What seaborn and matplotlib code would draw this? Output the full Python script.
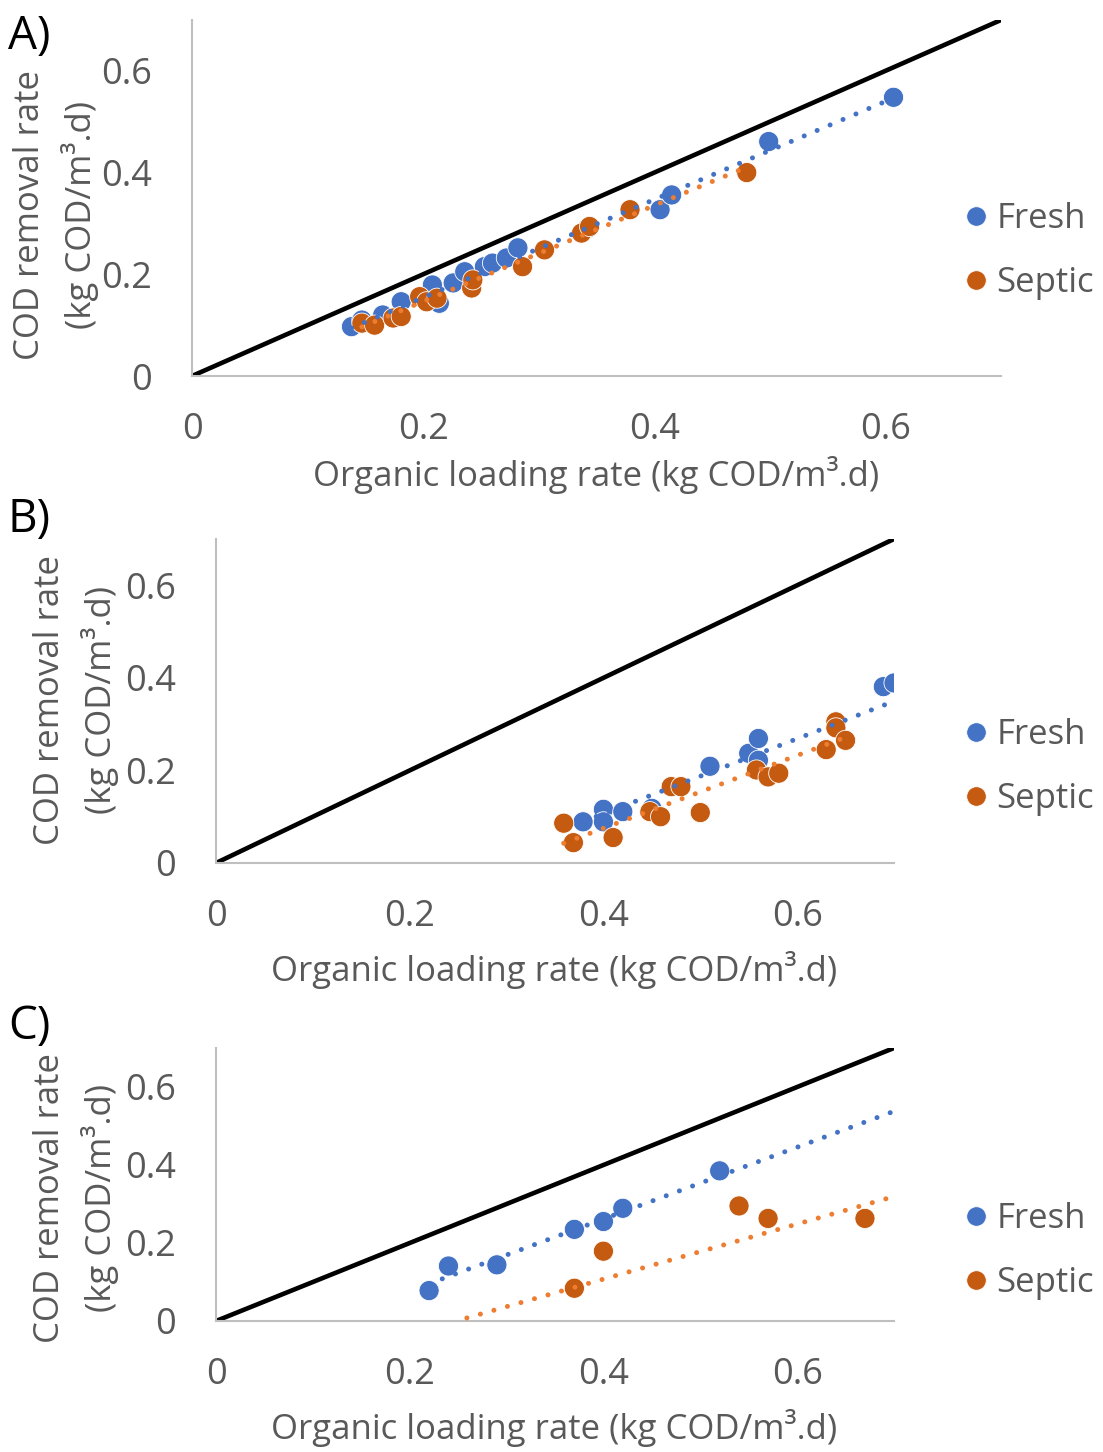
import numpy as np
import pandas as pd
import matplotlib
matplotlib.use("Agg")
import matplotlib.pyplot as plt
from matplotlib.lines import Line2D
import seaborn as sns

# ---- data: organic loading rate (x) vs COD removal rate (y) ----
A_fresh_x = [0.138, 0.147, 0.165, 0.181, 0.214, 0.208, 0.226, 0.236, 0.253, 0.260, 0.272, 0.282, 0.342, 0.405, 0.415, 0.499, 0.607]
A_fresh_y = [0.097, 0.110, 0.120, 0.146, 0.143, 0.179, 0.183, 0.205, 0.215, 0.222, 0.232, 0.252, 0.290, 0.327, 0.356, 0.461, 0.548]
A_septic_x = [0.147, 0.158, 0.174, 0.181, 0.197, 0.203, 0.212, 0.242, 0.243, 0.286, 0.305, 0.337, 0.344, 0.379, 0.480]
A_septic_y = [0.104, 0.100, 0.114, 0.117, 0.156, 0.146, 0.153, 0.173, 0.189, 0.215, 0.248, 0.281, 0.294, 0.327, 0.400]

B_fresh_x = [0.379, 0.400, 0.400, 0.420, 0.450, 0.510, 0.550, 0.560, 0.560, 0.689, 0.700]
B_fresh_y = [0.089, 0.116, 0.089, 0.111, 0.118, 0.209, 0.237, 0.269, 0.222, 0.381, 0.389]
B_septic_x = [0.359, 0.369, 0.410, 0.448, 0.459, 0.470, 0.480, 0.500, 0.558, 0.570, 0.581, 0.630, 0.640, 0.640, 0.650]
B_septic_y = [0.086, 0.044, 0.055, 0.111, 0.100, 0.165, 0.165, 0.109, 0.201, 0.186, 0.194, 0.245, 0.305, 0.292, 0.265]

C_fresh_x = [0.220, 0.240, 0.290, 0.370, 0.400, 0.420, 0.520]
C_fresh_y = [0.078, 0.141, 0.144, 0.235, 0.255, 0.289, 0.385]
C_septic_x = [0.370, 0.400, 0.540, 0.570, 0.670]
C_septic_y = [0.084, 0.179, 0.295, 0.263, 0.263]

# linear trendlines: slope, intercept, x start, x end
A_fresh_trend = [0.964, -0.0386, 0.138, 0.607]
A_septic_trend = [0.943, -0.042, 0.147, 0.480]
B_fresh_trend = [0.810, -0.2175, 0.379, 0.700]
B_septic_trend = [0.7865, -0.2396, 0.359, 0.650]
C_fresh_trend = [0.921, -0.107, 0.220, 0.700]
C_septic_trend = [0.706, -0.175, 0.259, 0.700]

series_names = ["Fresh", "Septic"]
panel_labels = ["A)", "B)", "C)"]
tick_values = [0, 0.2, 0.4, 0.6]
tick_labels = ["0", "0.2", "0.4", "0.6"]
xlabel_text = "Organic loading rate (kg COD/m³.d)"
ylabel_text = "COD removal rate\n(kg COD/m³.d)"

# ---- styling ----
sns.set_theme(style="white")
plt.rcParams["font.family"] = ["Open Sans", "DejaVu Sans"]

W, H = 1103, 1452
DPI = 100
MARKER_COL = {"Fresh": "#4472C4", "Septic": "#C55A11"}
TREND_COL = {"Fresh": "#4472C4", "Septic": "#ED7D31"}
TXT = "#595959"
AX_GREY = "#BFBFBF"
TICK_FS = 26
LABEL_FS = 25

fig = plt.figure(figsize=(W / DPI, H / DPI), dpi=DPI)


def px_axes(left, top, right, bottom):
    return fig.add_axes([left / W, 1 - bottom / H, (right - left) / W, (bottom - top) / H])


panels = [
    dict(box=(192, 20, 1001, 376),
         fresh=(A_fresh_x, A_fresh_y), septic=(A_septic_x, A_septic_y),
         trends=(A_fresh_trend, A_septic_trend),
         letter_y=37, xlab=(596, 475), ylab=(30, 80, 215), leg_y=(219, 283)),
    dict(box=(216, 539, 894, 863),
         fresh=(B_fresh_x, B_fresh_y), septic=(B_septic_x, B_septic_y),
         trends=(B_fresh_trend, B_septic_trend),
         letter_y=520, xlab=(554, 970), ylab=(50, 100, 700), leg_y=(735, 799)),
    dict(box=(216, 1048, 894, 1321),
         fresh=(C_fresh_x, C_fresh_y), septic=(C_septic_x, C_septic_y),
         trends=(C_fresh_trend, C_septic_trend),
         letter_y=1027, xlab=(554, 1428), ylab=(50, 100, 1198), leg_y=(1219, 1283)),
]

for letter, p in zip(panel_labels, panels):
    ax = px_axes(*p["box"])
    df = pd.concat([
        pd.DataFrame({"olr": p["fresh"][0], "removal": p["fresh"][1], "type": "Fresh"}),
        pd.DataFrame({"olr": p["septic"][0], "removal": p["septic"][1], "type": "Septic"}),
    ], ignore_index=True)

    # 1:1 reference line (complete removal)
    ax.plot([0, 0.7], [0, 0.7], color="black", lw=3.3, zorder=2, solid_capstyle="butt")

    sns.scatterplot(data=df, x="olr", y="removal", hue="type", hue_order=series_names,
                    palette=MARKER_COL, s=210, edgecolor="white", linewidth=0.6,
                    legend=False, ax=ax, zorder=3)

    for name, tr in zip(series_names, p["trends"]):
        slope, icpt, x0, x1 = tr
        xs = np.array([x0, x1])
        ax.plot(xs, slope * xs + icpt, color=TREND_COL[name], lw=3.6,
                linestyle=(0, (0.01, 2.8)), dash_capstyle="round", zorder=4)

    ax.set_xlim(0, 0.7)
    ax.set_ylim(0, 0.7)
    ax.set_xticks(tick_values, tick_labels)
    ax.set_yticks(tick_values, tick_labels)
    ax.set_xlabel("")
    ax.set_ylabel("")
    for side in ("top", "right"):
        ax.spines[side].set_visible(False)
    for side in ("left", "bottom"):
        ax.spines[side].set_color(AX_GREY)
        ax.spines[side].set_linewidth(1.5)
    ax.tick_params(axis="both", direction="inout", length=18, width=1.5, color=AX_GREY,
                   labelsize=TICK_FS, labelcolor=TXT)
    ax.tick_params(axis="x", pad=17)
    ax.tick_params(axis="y", pad=20)
    ax.patch.set_alpha(0)

    # axis titles
    fig.text(p["xlab"][0] / W, 1 - p["xlab"][1] / H, xlabel_text, ha="center", va="center",
             fontsize=LABEL_FS, color=TXT)
    line1, line2 = ylabel_text.split("\n")
    fig.text(p["ylab"][0] / W, 1 - p["ylab"][2] / H, line1, ha="center", va="center",
             rotation=90, fontsize=LABEL_FS, color=TXT)
    fig.text(p["ylab"][1] / W, 1 - p["ylab"][2] / H, line2, ha="center", va="center",
             rotation=90, fontsize=LABEL_FS, color=TXT)

    # panel letter
    fig.text(8 / W, 1 - p["letter_y"] / H, letter, ha="left", va="center",
             fontsize=33, color="black")

    # legend
    handles = [Line2D([], [], marker="o", linestyle="none", markersize=14,
                      markerfacecolor=MARKER_COL[n], markeredgecolor="white",
                      markeredgewidth=0.5, label=n) for n in series_names]
    yc = (p["leg_y"][0] + p["leg_y"][1]) / 2
    ax.legend(handles=handles, loc="center left", bbox_to_anchor=(967 / W, 1 - yc / H),
              bbox_transform=fig.transFigure, frameon=False, fontsize=LABEL_FS,
              labelcolor=TXT, handlelength=0.5, handletextpad=0.35, labelspacing=0.85,
              borderpad=0, borderaxespad=0)

fig.savefig("out.png", dpi=DPI)
